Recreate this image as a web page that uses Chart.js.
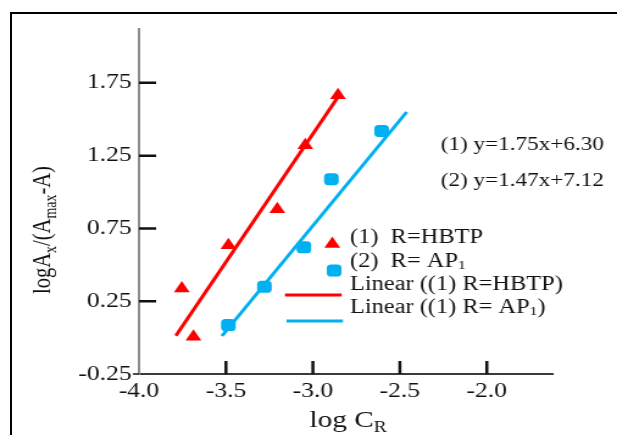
<!DOCTYPE html>
<html>
<head>
<meta charset="utf-8">
<script src="https://cdn.jsdelivr.net/npm/chart.js"></script>
<style>
  html, body { margin: 0; padding: 0; background: #fff; width: 617px; height: 435px; overflow: hidden; }
  #frame { position: absolute; left: 10px; top: 12px; width: 607px; height: 423px; box-sizing: border-box;
           border-top: 2px solid #000; border-left: 2px solid #000; }
  #wrap { position: absolute; left: 0; top: 0; width: 506px; height: 435px;
          transform: scaleX(1.2194); transform-origin: 0 0; }
</style>
</head>
<body>
<div id="frame"></div>
<div id="wrap"><canvas id="chart" width="506" height="435"></canvas></div>
<script>
// data
const hbtpX = [-3.754, -3.687, -3.486, -3.205, -3.044, -2.856];
const hbtpY = [0.338, 0.006, 0.635, 0.882, 1.322, 1.665];
const ap1X = [-3.486, -3.279, -3.052, -2.894, -2.605];
const ap1Y = [0.086, 0.349, 0.620, 1.088, 1.420];
const hbtpFitX = [-3.788, -2.857];
const hbtpFitY = [0.013, 1.651];
const ap1FitX = [-3.523, -2.461];
const ap1FitY = [0.011, 1.550];
const xTicks = [-4.0, -3.5, -3.0, -2.5, -2.0];
const yTicks = [-0.25, 0.25, 0.75, 1.25, 1.75];
const equations = ['(1) y=1.75x+6.30', '(2) y=1.47x+7.12'];

const STRETCH = 1.2194;
const RED = '#ff0000';
const BLUE = '#00b0f0';
const SERIF = '"Liberation Serif", "Times New Roman", serif';

const pts = (xs, ys) => xs.map((v, i) => ({ x: v, y: ys[i] }));

// text with subscripts, parts = [[text, isSub], ...]
function richWidth(ctx, parts, size) {
  let w = 0;
  for (const [t, sub] of parts) {
    ctx.font = (sub ? Math.round(size * 0.66) : size) + 'px ' + SERIF;
    w += ctx.measureText(t).width;
  }
  return w;
}
function drawRich(ctx, parts, x, y, size) {
  let cx = x;
  for (const [t, sub] of parts) {
    ctx.font = (sub ? Math.round(size * 0.66) : size) + 'px ' + SERIF;
    ctx.fillText(t, cx, y + (sub ? size * 0.2 : 0));
    cx += ctx.measureText(t).width;
  }
}

function marker(ctx, style, radius, color, x, y) {
  ctx.fillStyle = color;
  if (Chart.helpers && Chart.helpers.drawPoint) {
    Chart.helpers.drawPoint(ctx, { pointStyle: style, radius: radius, rotation: 0, borderWidth: 0 }, x, y);
  }
}

const overlay = {
  id: 'overlay',
  afterDraw(chart) {
    const { ctx, chartArea: a, scales: { x, y } } = chart;
    ctx.save();

    // inward tick marks
    ctx.strokeStyle = '#111';
    ctx.lineWidth = 2.5;
    ctx.beginPath();
    yTicks.slice(1).forEach(v => {
      const py = y.getPixelForValue(v);
      ctx.moveTo(a.left, py); ctx.lineTo(a.left + 14, py);
    });
    xTicks.slice(1).forEach(v => {
      const px = x.getPixelForValue(v);
      ctx.moveTo(px, a.bottom); ctx.lineTo(px, a.bottom - 13);
    });
    ctx.stroke();
    ctx.lineWidth = 1.5;
    ctx.beginPath();
    ctx.moveTo(a.left - 5, a.bottom); ctx.lineTo(a.left, a.bottom);
    ctx.stroke();

    // legend inside plot
    ctx.textBaseline = 'middle';
    ctx.textAlign = 'left';
    const tx = 287;
    marker(ctx, 'triangle', 7.5, RED, 272.5, 244);
    marker(ctx, 'rectRounded', 7, BLUE, 274, 270.5);
    ctx.fillStyle = '#111';
    drawRich(ctx, [['(1)  R=HBTP', false]], tx, 238, 20);
    drawRich(ctx, [['(2)  R= AP', false], ['1', true]], tx, 262, 20);
    drawRich(ctx, [['Linear ((1) R=HBTP)', false]], tx, 285, 20);
    drawRich(ctx, [['Linear ((1) R= AP', false], ['1', true], [')', false]], tx, 308, 20);
    ctx.lineWidth = 3;
    ctx.strokeStyle = RED;
    ctx.beginPath(); ctx.moveTo(233.7, 295); ctx.lineTo(280.2, 295); ctx.stroke();
    ctx.strokeStyle = BLUE;
    ctx.beginPath(); ctx.moveTo(235, 321); ctx.lineTo(281.3, 321); ctx.stroke();

    // regression equations
    ctx.fillStyle = '#111';
    ctx.font = '19px ' + SERIF;
    ctx.fillText(equations[0], 361.4, 145);
    ctx.fillText(equations[1], 361.4, 181);

    // axis titles
    ctx.textBaseline = 'alphabetic';
    const xt = [['log C', false], ['R', true]];
    const xw = richWidth(ctx, xt, 24);
    drawRich(ctx, xt, (a.left + a.right) / 2 + 2 - xw / 2, 427, 24);

    const yt = [['logA', false], ['x', true], ['/(A', false], ['max', true], ['-A)', false]];
    ctx.save();
    ctx.translate(50.5 / STRETCH, 230);
    ctx.rotate(-Math.PI / 2);
    const yw = richWidth(ctx, yt, 20.5);
    drawRich(ctx, yt, -yw / 2, 0, 20.5);
    ctx.restore();

    ctx.restore();
  }
};

new Chart(document.getElementById('chart'), {
  type: 'scatter',
  data: {
    datasets: [
      { label: '(1) R=HBTP', data: pts(hbtpX, hbtpY), pointStyle: 'triangle', pointRadius: 7.5,
        backgroundColor: RED, borderColor: RED, borderWidth: 0 },
      { label: '(2) R= AP1', data: pts(ap1X, ap1Y), pointStyle: 'rectRounded', pointRadius: 7,
        backgroundColor: BLUE, borderColor: BLUE, borderWidth: 0 },
      { label: 'Linear ((1) R=HBTP)', data: pts(hbtpFitX, hbtpFitY), showLine: true, pointRadius: 0,
        borderColor: RED, borderWidth: 3 },
      { label: 'Linear ((1) R= AP1)', data: pts(ap1FitX, ap1FitY), showLine: true, pointRadius: 0,
        borderColor: BLUE, borderWidth: 3 }
    ]
  },
  options: {
    responsive: false,
    animation: false,
    devicePixelRatio: 1,
    layout: { padding: { top: 29, right: 53, left: 0, bottom: 0 } },
    plugins: { legend: { display: false }, tooltip: { enabled: false } },
    scales: {
      x: {
        type: 'linear', min: -4, max: -1.623,
        afterBuildTicks: s => { s.ticks = xTicks.map(v => ({ value: v })); },
        afterFit: s => { s.height = 61; },
        grid: { display: false, drawTicks: false },
        border: { color: '#3a3a3a', width: 2 },
        ticks: { padding: 5, autoSkip: false, maxRotation: 0, color: '#111',
                 font: { family: SERIF, size: 21 }, callback: v => v.toFixed(1) }
      },
      y: {
        type: 'linear', min: -0.25, max: 2.12,
        afterBuildTicks: s => { s.ticks = yTicks.map(v => ({ value: v })); },
        afterFit: s => { s.width = 114; },
        grid: { display: false, drawTicks: false },
        border: { color: '#8c8c8c', width: 2 },
        ticks: { padding: 6, color: '#111',
                 font: { family: SERIF, size: 21 }, callback: v => v.toFixed(2) }
      }
    }
  },
  plugins: [overlay]
});
</script>
</body>
</html>
